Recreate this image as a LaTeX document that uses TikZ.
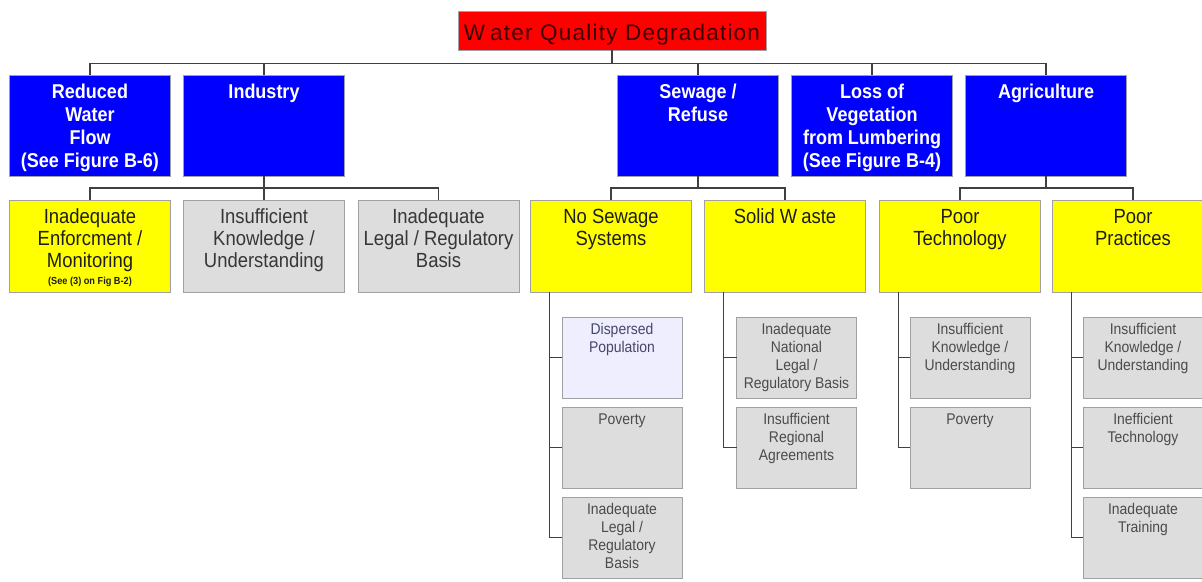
\documentclass[tikz,border=0pt]{standalone}
\usepackage{fontspec}
\setmainfont{Liberation Sans}
\newfontfamily\boxfont[FakeStretch=0.9]{Liberation Sans}
\newfontfamily\titlefont[LetterSpace=5.5]{Liberation Sans}
\definecolor{boxline}{RGB}{160,160,165}
\definecolor{wire}{RGB}{64,64,64}
\definecolor{topred}{RGB}{255,0,0}
\definecolor{causeblue}{RGB}{0,0,255}
\definecolor{factyellow}{RGB}{255,255,0}
\definecolor{factgrey}{RGB}{221,221,221}
\definecolor{paleblue}{RGB}{238,238,255}
\definecolor{titletext}{RGB}{60,0,0}
\definecolor{darktext}{RGB}{30,30,30}
\definecolor{greytext}{RGB}{55,55,55}
\definecolor{smalltext}{RGB}{75,75,75}
\definecolor{bluegreytext}{RGB}{70,70,105}
% centred stack of lines whose baseline is the first line
\newcommand{\boxlines}[1]{\begin{tabular}[t]{@{}c@{}}#1\end{tabular}}
\begin{document}
\begin{tikzpicture}[x=1pt,y=-1pt,
  box/.style={draw=boxline, line width=1pt, inner sep=0pt, outer sep=0pt,
    anchor=north west},
  headbox/.style={box, fill=topred, text=titletext, minimum width=308pt,
    text height=29pt, text depth=10pt,
    font={\titlefont\fontsize{22.5}{26}\selectfont}},
  cause/.style={box, fill=causeblue, text=white, minimum width=161pt,
    text height=23pt, text depth=78pt,
    font={\boxfont\bfseries\fontsize{20}{23}\selectfont}},
  fact/.style={box, minimum width=161pt, text height=23pt, text depth=69pt,
    font={\boxfont\fontsize{20.5}{22}\selectfont}},
  yfact/.style={fact, fill=factyellow, text=darktext},
  gfact/.style={fact, fill=factgrey, text=greytext},
  sub/.style={box, fill=factgrey, text=smalltext, minimum width=120pt,
    text height=17pt, text depth=64pt,
    font={\boxfont\fontsize{15.5}{18}\selectfont}},
  conn/.style={draw=wire, line width=1.3pt}]
\useasboundingbox (0,0) rectangle (1202,581);
\clip (0,0) rectangle (1202,581);

% top problem
\node[headbox] (wqd) at (458,11) {W\hspace{5pt}ater Quality Degradation};

% main causes
\node[cause] (rwf) at (9.5,75)  {\boxlines{Reduced\\Water\\Flow\\(See Figure B-6)}};
\node[cause] (ind) at (183.5,75) {\boxlines{Industry}};
\node[cause] (sew) at (617.5,75) {\boxlines{Sewage /\\Refuse}};
\node[cause] (lov) at (791.5,75) {\boxlines{Loss of\\Vegetation\\from Lumbering\\(See Figure B-4)}};
\node[cause] (agr) at (965.5,75) {\boxlines{Agriculture}};

% contributing factors
\node[yfact] (ief) at (9.5,200) {\boxlines{Inadequate\\Enforcment /\\Monitoring\\[-5pt]{\fontsize{10.2}{11}\selectfont\bfseries (See (3) on Fig B-2)}}};
\node[gfact] (iku) at (183.5,200) {\boxlines{Insufficient\\Knowledge /\\Understanding}};
\node[gfact] (ilr) at (358,200) {\boxlines{Inadequate\\Legal / Regulatory\\Basis}};
\node[yfact] (nss) at (530.5,200) {\boxlines{No Sewage\\Systems}};
\node[yfact] (sow) at (704.5,200) {\boxlines{Solid W\hspace{4pt}aste}};
\node[yfact] (ptc) at (879.5,200) {\boxlines{Poor\\Technology}};
\node[yfact] (ppr) at (1052.5,200) {\boxlines{Poor\\Practices}};

% underlying factors
\node[sub, fill=paleblue, text=bluegreytext] (dsp) at (562,317) {\boxlines{Dispersed\\Population}};
\node[sub] (pv1) at (562,407) {\boxlines{Poverty}};
\node[sub] (ilb) at (562,497) {\boxlines{Inadequate\\Legal /\\Regulatory\\Basis}};
\node[sub] (inl) at (736.5,317) {\boxlines{Inadequate\\National\\Legal /\\Regulatory Basis}};
\node[sub] (ira) at (736.5,407) {\boxlines{Insufficient\\Regional\\Agreements}};
\node[sub] (ik2) at (910,317) {\boxlines{Insufficient\\Knowledge /\\Understanding}};
\node[sub] (pv2) at (910,407) {\boxlines{Poverty}};
\node[sub] (ik3) at (1083,317) {\boxlines{Insufficient\\Knowledge /\\Understanding}};
\node[sub] (ift) at (1083,407) {\boxlines{Inefficient\\Technology}};
\node[sub] (itr) at (1083,497) {\boxlines{Inadequate\\Training}};

% level 1 connectors
\foreach \c in {rwf,ind,sew,lov,agr}
  \draw[conn] (wqd.south) -- ++(0,13.5) -| (\c.north);

% level 2 connectors
\foreach \c in {ief,iku,ilr}
  \draw[conn] (ind.south) -- ++(0,12) -| (\c.north);
\foreach \c in {nss,sow}
  \draw[conn] (sew.south) -- ++(0,12) -| (\c.north);
\foreach \c in {ptc,ppr}
  \draw[conn] (agr.south) -- ++(0,12) -| (\c.north);

% level 3 connectors
\foreach \c in {dsp,pv1,ilb}
  \draw[conn] ([xshift=19pt]nss.south west) |- (\c.west);
\foreach \c in {inl,ira}
  \draw[conn] ([xshift=19pt]sow.south west) |- (\c.west);
\foreach \c in {ik2,pv2}
  \draw[conn] ([xshift=19pt]ptc.south west) |- (\c.west);
\foreach \c in {ik3,ift,itr}
  \draw[conn] ([xshift=19pt]ppr.south west) |- (\c.west);
\end{tikzpicture}
\end{document}
